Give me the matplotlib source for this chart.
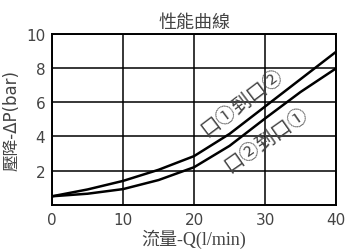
import matplotlib.pyplot as plt

# flow Q (l/min) and pressure drop (bar)
flow = [0, 5, 10, 15, 20, 25, 30, 35, 40]
dp_1_to_2 = [0.5, 0.9, 1.4, 2.05, 2.85, 4.15, 5.75, 7.35, 8.95]
dp_2_to_1 = [0.5, 0.65, 0.92, 1.45, 2.2, 3.45, 5.05, 6.6, 7.98]

title = "性能曲線"
xlabel = "流量-Q(l/min)"
ylabel = "壓降-ΔP(bar)"
label_1 = "口①到口②"
label_2 = "口②到口①"

grey = "#444444"
cjk = ["Noto Sans CJK TC", "DejaVu Sans"]
serif = ["Liberation Serif", "Noto Sans CJK TC"]

fig = plt.figure(figsize=(3.5, 2.51), dpi=100)
ax = fig.add_axes([0.149, 0.18, 0.811, 0.681])

ax.plot(flow, dp_1_to_2, color="black", lw=1.8)
ax.plot(flow, dp_2_to_1, color="black", lw=1.8)

ax.set_xlim(0, 40)
ax.set_ylim(0, 10)
ax.set_xticks([0, 10, 20, 30, 40])
ax.set_yticks([2, 4, 6, 8, 10])
ax.grid(True, color="black", lw=1.1)
ax.tick_params(length=0, labelsize=11, labelcolor=grey, pad=5)
for s in ax.spines.values():
    s.set_linewidth(1.4)

ax.set_title(title, family=cjk, fontsize=13, color=grey, pad=5)
ax.set_xlabel(xlabel, family=serif, fontsize=13, color=grey, labelpad=1)
ax.set_ylabel(ylabel, family=["DejaVu Sans", "Noto Sans CJK TC"], fontsize=12,
              color=grey, labelpad=4)

ax.text(26.8, 6.04, label_1, family=cjk, fontsize=14, weight="light",
        color=grey, rotation=37, ha="center", va="center")
ax.text(30.1, 3.87, label_2, family=cjk, fontsize=14, weight="light",
        color=grey, rotation=35, ha="center", va="center")

fig.savefig("out.png", dpi=100)
